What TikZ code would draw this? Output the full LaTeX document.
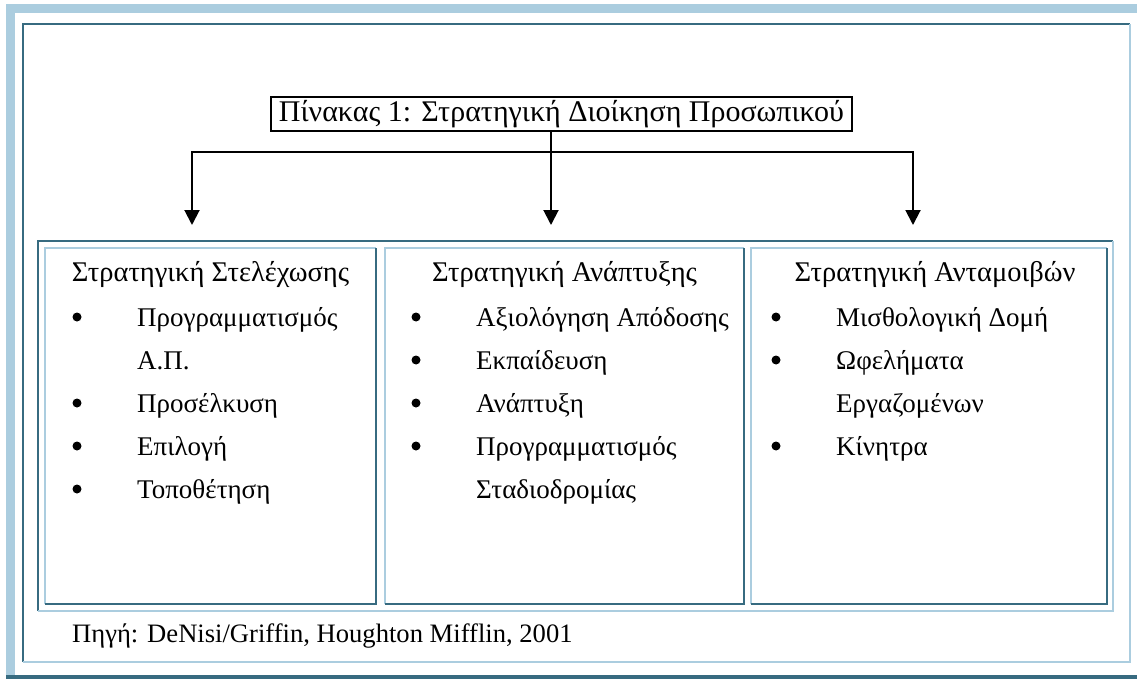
\documentclass[tikz,border=0pt]{standalone}
\usepackage{fontspec}
\setmainfont{Liberation Serif}
\usepackage{tikz}
\usetikzlibrary{arrows.meta,positioning,calc}
\definecolor{paleblue}{HTML}{ABCDDF}
\definecolor{deepblue}{HTML}{376B80}
\tikzset{
  titlebox/.style={
    rectangle, draw=black, line width=1.5pt,
    minimum width=581pt, minimum height=34pt,
    font=\fontsize{30}{34}\selectfont, inner sep=1pt
  },
  headtext/.style={anchor=base, font=\fontsize{28.5}{33}\selectfont, inner sep=0pt},
  itemtext/.style={anchor=base west, font=\fontsize{27}{32}\selectfont, inner sep=0pt},
  srctext/.style={anchor=base west, font=\fontsize{26.6}{32}\selectfont, inner sep=0pt},
  dot/.style={circle, fill=black, inner sep=0pt, minimum size=9pt},
  linkarrow/.style={
    -{Triangle[length=15pt,width=15pt]}, line width=2pt, color=black
  },
  rimlight/.style={draw=paleblue, line width=2pt},
  rimdark/.style={draw=deepblue, line width=2pt},
}
\begin{document}
\begin{tikzpicture}[x=1pt, y=-1pt]
\useasboundingbox (0,0) rectangle (1137,679);
% page edge
\fill[paleblue] (6,4) rectangle (15,676);
\fill[paleblue] (6,4) rectangle (1137,13);
\fill[deepblue] (6,675) rectangle (1137,679);

% frame around the figure
\draw[rimdark] (22.5,662) -- (22.5,24.5) -- (1130,24.5);
\draw[rimlight] (22.5,662) -- (1130,662) -- (1130,24.5);

% table and its cells
\draw[rimdark] (38,611) -- (38,241) -- (1113,241);
\draw[rimlight] (38,611) -- (1113,611) -- (1113,241);
\foreach \l/\r in {45/376, 385/744, 751/1107} {
  \draw[rimlight] (\l,604) -- (\l,248) -- (\r,248);
  \draw[rimdark] (\l,604) -- (\r,604) -- (\r,248);
}

% title and arrows
\node[titlebox] (title) at (561.5,114) {Πίνακας 1: Στρατηγική Διοίκηση Προσωπικού};
\coordinate (tipA) at (192,225);
\coordinate (tipB) at (551,225);
\coordinate (tipC) at (913,225);
\coordinate (junc) at (551,152);
\draw[linkarrow] (title.south -| tipB) -- (tipB);
\draw[linkarrow] (junc) -| (tipA);
\draw[linkarrow] (junc) -| (tipC);

% column 1
\node[headtext] (headA) at (210.5,281) {Στρατηγική Στελέχωσης};
\foreach \y/\t [count=\i] in {326/Προγραμματισμός, 369/Α.Π., 412/Προσέλκυση, 455/Επιλογή, 498/Τοποθέτηση}
  \node[itemtext] (itemA\i) at (137,\y) {\t};
\foreach \y [count=\i] in {317, 403, 446, 489}
  \node[dot] (dotA\i) at (77,\y) {};

% column 2
\node[headtext] (headB) at (564.5,281) {Στρατηγική Ανάπτυξης};
\foreach \y/\t [count=\i] in {326/Αξιολόγηση Απόδοσης, 369/Εκπαίδευση, 412/Ανάπτυξη, 455/Προγραμματισμός, 498/Σταδιοδρομίας}
  \node[itemtext] (itemB\i) at (476,\y) {\t};
\foreach \y [count=\i] in {317, 360, 403, 446}
  \node[dot] (dotB\i) at (416,\y) {};

% column 3
\node[headtext] (headC) at (935,281) {Στρατηγική Ανταμοιβών};
\foreach \y/\t [count=\i] in {326/Μισθολογική Δομή, 369/Ωφελήματα, 412/Εργαζομένων, 455/Κίνητρα}
  \node[itemtext] (itemC\i) at (836,\y) {\t};
\foreach \y [count=\i] in {317, 360, 446}
  \node[dot] (dotC\i) at (776,\y) {};

% source line
\node[srctext] (source) at (72,642) {Πηγή: DeNisi/Griffin, Houghton Mifflin, 2001};
\end{tikzpicture}
\end{document}
